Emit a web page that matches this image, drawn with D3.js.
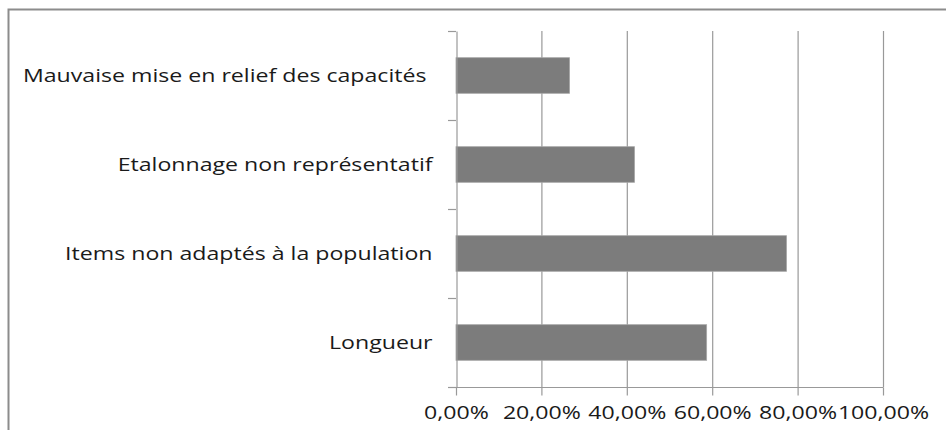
<!DOCTYPE html>
<html>
<head>
<meta charset="utf-8">
<script src="https://cdn.jsdelivr.net/npm/d3@7"></script>
<style>
  body { margin: 0; background: #fff; }
  text { font-family: "Open Sans", sans-serif; fill: #1a1a1a; white-space: pre; }
</style>
</head>
<body>
<div id="graph"></div>
<script>
// data, top to bottom as in the chart
const categories = ["Mauvaise mise en relief des capacités ", "Etalonnage non représentatif", "Items non adaptés à la population", "Longueur"];
const values = [0.266, 0.418, 0.774, 0.587];
const tickValues = [0, 0.2, 0.4, 0.6, 0.8, 1.0];

document.addEventListener('DOMContentLoaded', () => {
  let width = 946, height = 430;
  let left = 456, right = 883, top = 31, bottom = 387;
  let fontSize = 18.5, stretch = 1.25; // the original text is a bit wider than tall

  let svg = d3.select("#graph").append("svg").attr("width", width).attr("height", height);

  // chart frame
  svg.append("path").attr("d", "M8.5,431 V9.5 H947")
    .attr("fill", "none").attr("stroke", "#8c8c8c").attr("stroke-width", 2);

  let x = d3.scaleLinear().domain([0, 1]).range([left, right]);
  let y = d3.scaleBand().domain(categories).range([top, bottom]).paddingInner(0.6).paddingOuter(0.3);
  let band = d3.scaleBand().domain(categories).range([top, bottom]);

  // vertical gridlines
  svg.selectAll("line.grid").data(tickValues.slice(1)).enter().append("line")
    .attr("class", "grid")
    .attr("x1", d => x(d) + 0.5).attr("x2", d => x(d) + 0.5)
    .attr("y1", top).attr("y2", bottom)
    .attr("stroke", "#999").attr("stroke-width", 1.2);

  // bars
  svg.selectAll("rect.bar").data(categories).enter().append("rect")
    .attr("class", "bar")
    .attr("x", x(0))
    .attr("y", d => y(d))
    .attr("width", (d, i) => x(values[i]) - x(0))
    .attr("height", y.bandwidth())
    .attr("fill", "#7c7c7c")
    .attr("stroke", "#a6a6a6").attr("stroke-width", 0.8);

  // category axis
  let yAxis = d3.axisLeft(band).tickSize(0).tickPadding(24).tickFormat(d => d);
  let gy = svg.append("g").attr("transform", "translate(" + (left + 0.5) + ",0)").call(yAxis);
  gy.select(".domain").attr("stroke", "#999").attr("stroke-width", 1.2);
  gy.selectAll("text")
    .attr("font-size", fontSize).attr("fill", "#1a1a1a")
    .attr("x", -24 / stretch).attr("dy", "0.34em")
    .attr("transform", "scale(" + stretch + ",1)");
  // tick marks at band boundaries
  let bounds = categories.map(c => band(c)).concat([bottom]);
  svg.selectAll("line.ytick").data(bounds).enter().append("line")
    .attr("x1", left - 8).attr("x2", left)
    .attr("y1", d => d + 0.5).attr("y2", d => d + 0.5)
    .attr("stroke", "#999").attr("stroke-width", 1.2);

  // value axis
  let xAxis = d3.axisBottom(x).tickValues(tickValues).tickSize(8).tickPadding(10)
    .tickFormat(d => d3.format(".2f")(d * 100).replace(".", ",") + "%");
  let gx = svg.append("g").attr("transform", "translate(0," + (bottom + 0.5) + ")").call(xAxis);
  gx.select(".domain").attr("d", "M" + (left - 8) + ",0H" + (right + 0.5)).attr("stroke", "#999").attr("stroke-width", 1.2);
  gx.selectAll(".tick line").attr("stroke", "#999").attr("stroke-width", 1.2);
  gx.selectAll("text")
    .attr("font-size", fontSize).attr("fill", "#1a1a1a")
    .attr("transform", "scale(" + stretch + ",1)");
});
</script>
</body>
</html>
